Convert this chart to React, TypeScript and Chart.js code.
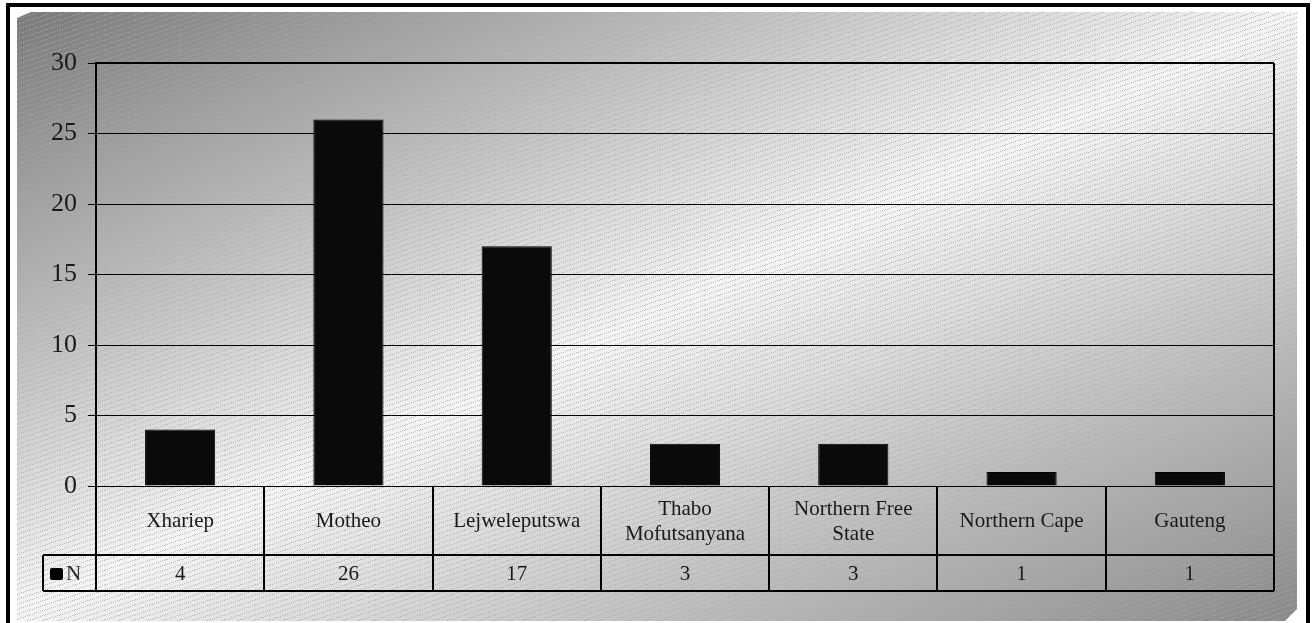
import React, { useEffect, useRef } from 'react';
import { Chart, registerables } from 'chart.js';

Chart.register(...registerables);

// ---- data ----
const categories = ['Xhariep', 'Motheo', 'Lejweleputswa', 'Thabo Mofutsanyana', 'Northern Free State', 'Northern Cape', 'Gauteng'];
const categoryLines = [['Xhariep'], ['Motheo'], ['Lejweleputswa'], ['Thabo', 'Mofutsanyana'], ['Northern Free', 'State'], ['Northern Cape'], ['Gauteng']];
const seriesName = 'N';
const values = [4, 26, 17, 3, 3, 1, 1];
const yMin = 0;
const yMax = 30;
const yStep = 5;

const FONT = '"Liberation Serif", "Times New Roman", serif';
const W = 1315;
const H = 623;

function makeHatch(ctx: CanvasRenderingContext2D) {
  const tile = document.createElement('canvas');
  tile.width = 15;
  tile.height = 5;
  const t = tile.getContext('2d')!;
  t.fillStyle = 'rgba(170,170,170,0.8)';
  for (let x = 0; x < 15; x += 2) {
    const y = 4 - Math.floor(x / 3);
    t.fillRect(x, y, 1, 1);
  }
  return ctx.createPattern(tile, 'repeat');
}

const backgroundPlugin = {
  id: 'bgFrame',
  beforeDraw(chart: any) {
    const ctx: CanvasRenderingContext2D = chart.ctx;
    ctx.save();
    ctx.fillStyle = '#ffffff';
    ctx.fillRect(0, 0, W, H);
    // outer frame (open at bottom)
    ctx.fillStyle = '#000000';
    ctx.fillRect(6, 3, 4, H - 3);
    ctx.fillRect(6, 3, 1304, 4);
    ctx.fillRect(1306, 3, 4, H - 3);
    // gradient panel
    const L = 17, T = 12, R = 1297, B = 615;
    ctx.beginPath();
    ctx.moveTo(L + 14, T);
    ctx.lineTo(R, T);
    ctx.lineTo(R, B - 6);
    ctx.lineTo(R - 12, B + 6);
    ctx.lineTo(L, B + 6);
    ctx.lineTo(L, T + 6);
    ctx.closePath();
    ctx.save();
    ctx.translate(L, T);
    ctx.scale(R - L, B - T);
    const g = ctx.createLinearGradient(0, 0, 1, 1);
    g.addColorStop(0, '#7a7a7a');
    g.addColorStop(0.5, '#f4f4f4');
    g.addColorStop(1, '#8a8a8a');
    ctx.fillStyle = g;
    ctx.fill();
    ctx.restore();
    const pat = makeHatch(ctx);
    if (pat) {
      ctx.fillStyle = pat;
      ctx.fill();
    }
    ctx.restore();
  },
};

const tablePlugin = {
  id: 'dataTable',
  afterDraw(chart: any) {
    const ctx: CanvasRenderingContext2D = chart.ctx;
    const area = chart.chartArea;
    const xs = chart.scales.x;
    const n = categories.length;
    const colW = xs.getPixelForValue(1) - xs.getPixelForValue(0);
    const left = area.left;
    const right = area.right;
    const rowTop = area.bottom;
    const rowMid = rowTop + 69;
    const rowBot = rowMid + 36;
    const legendLeft = 43;

    ctx.save();
    ctx.strokeStyle = '#000';
    ctx.lineWidth = 2;
    ctx.beginPath();
    // plot frame top & right
    ctx.moveTo(left, area.top);
    ctx.lineTo(right, area.top);
    ctx.moveTo(right, area.top);
    ctx.lineTo(right, rowBot);
    // table verticals
    for (let i = 0; i < n; i++) {
      const bx = Math.round(xs.getPixelForValue(i) - colW / 2);
      ctx.moveTo(bx, rowTop);
      ctx.lineTo(bx, rowBot);
    }
    // horizontals
    ctx.moveTo(legendLeft, rowMid);
    ctx.lineTo(right, rowMid);
    ctx.moveTo(legendLeft, rowBot);
    ctx.lineTo(right, rowBot);
    ctx.moveTo(legendLeft, rowMid);
    ctx.lineTo(legendLeft, rowBot);
    ctx.stroke();

    ctx.fillStyle = '#1a1a1a';
    ctx.textAlign = 'center';
    ctx.textBaseline = 'middle';
    ctx.font = `21px ${FONT}`;
    const labMid = (rowTop + rowMid) / 2 + 1;
    const lh = 25;
    categoryLines.forEach((lines, i) => {
      const cx = xs.getPixelForValue(i);
      const y0 = labMid - ((lines.length - 1) * lh) / 2;
      lines.forEach((ln, j) => ctx.fillText(ln, cx, y0 + j * lh));
    });
    const valMid = (rowMid + rowBot) / 2 + 1;
    values.forEach((v, i) => {
      ctx.fillText(String(v), xs.getPixelForValue(i), valMid);
    });
    // legend key
    ctx.fillStyle = '#000';
    const sx = 50, sy = valMid - 6;
    ctx.beginPath();
    ctx.moveTo(sx + 2, sy);
    ctx.lineTo(sx + 11, sy);
    ctx.quadraticCurveTo(sx + 13, sy, sx + 13, sy + 2);
    ctx.lineTo(sx + 13, sy + 10);
    ctx.quadraticCurveTo(sx + 13, sy + 12, sx + 11, sy + 12);
    ctx.lineTo(sx + 2, sy + 12);
    ctx.quadraticCurveTo(sx, sy + 12, sx, sy + 10);
    ctx.lineTo(sx, sy + 2);
    ctx.quadraticCurveTo(sx, sy, sx + 2, sy);
    ctx.fill();
    ctx.fillStyle = '#2a2a2a';
    ctx.textAlign = 'left';
    ctx.fillText(seriesName, 66, valMid);
    ctx.restore();
  },
};

export default function App() {
  const ref = useRef<HTMLCanvasElement | null>(null);

  useEffect(() => {
    document.body.style.margin = '0';
    const canvas = ref.current;
    if (!canvas) return;
    const chart = new Chart(canvas, {
      type: 'bar',
      data: {
        labels: categories,
        datasets: [
          {
            label: seriesName,
            data: values,
            backgroundColor: '#0a0a0a',
            borderColor: '#000000',
            borderWidth: 1,
            barPercentage: 0.417,
            categoryPercentage: 1,
          },
        ],
      },
      options: {
        responsive: false,
        animation: false,
        devicePixelRatio: 1,
        layout: { padding: { top: 63, right: 41, bottom: 137, left: 0 } },
        plugins: {
          legend: { display: false },
          title: { display: false },
          tooltip: { enabled: false },
        },
        scales: {
          x: { display: false },
          y: {
            min: yMin,
            max: yMax,
            ticks: {
              stepSize: yStep,
              color: '#1a1a1a',
              padding: 11,
              font: { family: FONT, size: 26 },
            },
            grid: { color: '#000000', lineWidth: 1, tickLength: 8, drawTicks: true },
            border: { display: true, color: '#000000', width: 2 },
            afterFit: (s: any) => {
              s.width = 96;
            },
          },
        },
      },
      plugins: [backgroundPlugin, tablePlugin],
    });
    return () => chart.destroy();
  }, []);

  return (
    <div style={{ width: W, height: H }}>
      <canvas ref={ref} width={W} height={H} style={{ display: 'block' }} />
    </div>
  );
}
